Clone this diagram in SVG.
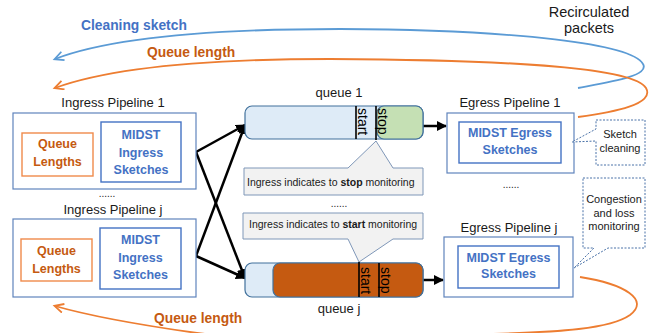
<svg xmlns="http://www.w3.org/2000/svg" width="650" height="333" viewBox="0 0 650 333">
<defs>
<style>
text{font-family:"Liberation Sans",Arial,sans-serif;}
.t{font-size:13px;fill:#1a1a1a;text-anchor:middle;}
.bl{font-size:12.5px;font-weight:bold;fill:#4472C4;text-anchor:middle;}
.or{font-size:12.5px;font-weight:bold;fill:#C55A11;text-anchor:middle;}
.big{font-size:13.8px;font-weight:bold;}
.outer{fill:#fff;stroke:#5F84BC;stroke-width:1.2;}
.inner{fill:#fff;stroke:#4472C4;stroke-width:1.4;}
.ql{fill:#fff;stroke:#F08A4B;stroke-width:1.4;}
.q{fill:#DEEBF7;stroke:#41719C;stroke-width:1.2;}
.call{fill:#F2F2F2;stroke:#7F97B8;stroke-width:1;}
.dot{fill:#fff;stroke:#4A72A8;stroke-width:1;stroke-dasharray:2,1.5;}
.sm{font-size:10.5px;fill:#1a1a1a;}
.note{font-size:11px;fill:#1a1a1a;text-anchor:middle;}
.vt{font-size:14px;fill:#000;}
.blk{stroke:#000;stroke-width:2.5;fill:none;marker-end:url(#ah);}
.sep{stroke:#000;stroke-width:1.6;}
</style>
<marker id="ah" markerUnits="userSpaceOnUse" markerWidth="11" markerHeight="11" refX="9" refY="5" orient="auto">
<path d="M0,0 L10,5 L0,10 Z" fill="#000"/>
</marker>
<marker id="ab" markerUnits="userSpaceOnUse" markerWidth="12" markerHeight="12" refX="9" refY="5" orient="auto">
<path d="M0.5,0.5 L9.5,5 L0.5,9.5" fill="none" stroke="#5B9BD5" stroke-width="1.8"/>
</marker>
<marker id="ao" markerUnits="userSpaceOnUse" markerWidth="12" markerHeight="12" refX="9" refY="5" orient="auto">
<path d="M0.5,0.5 L9.5,5 L0.5,9.5" fill="none" stroke="#ED7D31" stroke-width="1.8"/>
</marker>
</defs>
<rect width="650" height="333" fill="#fff"/>

<g id="connectors">
<path d="M578,88 C610,82 650,76 643,64 C632,44 520,30 340,29 C210,29 110,38 55,59" fill="none" stroke="#5B9BD5" stroke-width="1.8" marker-end="url(#ab)"/>
<path d="M578,117 C615,112 655,104 646,88 C634,68 520,60 330,59 C210,59 110,68 55,88" fill="none" stroke="#ED7D31" stroke-width="1.8" marker-end="url(#ao)"/>
<path d="M580,277 C625,284 650,300 630,315 C610,329 560,332 490,334 C400,337 270,342 197,333 C140,325 90,316 55,306" fill="none" stroke="#ED7D31" stroke-width="1.8" marker-end="url(#ao)"/>
<line class="blk" x1="196" y1="152" x2="245" y2="125"/>
<line class="blk" x1="196" y1="152" x2="245" y2="278"/>
<line class="blk" x1="196" y1="256" x2="245" y2="125"/>
<line class="blk" x1="196" y1="256" x2="245" y2="278"/>
<line class="blk" x1="423" y1="126" x2="446" y2="126"/>
<line class="blk" x1="423" y1="280" x2="443" y2="280"/>
</g>

<g id="labels">
<text class="big" x="81" y="30" fill="#4472C4">Cleaning sketch</text>
<text class="big" x="147" y="57" fill="#C55A11">Queue length</text>
<text class="big" x="154" y="323" fill="#C55A11">Queue length</text>
<text x="589" y="17" style="font-size:14.5px;fill:#1a1a1a;text-anchor:middle">Recirculated</text>
<text x="589" y="33" style="font-size:14.5px;fill:#1a1a1a;text-anchor:middle">packets</text>
</g>

<g id="ingress1">
<text class="t" x="113" y="107">Ingress Pipeline 1</text>
<rect class="outer" x="13" y="113" width="183" height="76"/>
<rect class="ql" x="22" y="133" width="71" height="43"/>
<text class="or" x="57.5" y="148">Queue</text>
<text class="or" x="57.5" y="166">Lengths</text>
<rect class="inner" x="101" y="122" width="80" height="60"/>
<text class="bl" x="141" y="139">MIDST</text>
<text class="bl" x="141" y="157">Ingress</text>
<text class="bl" x="141" y="174">Sketches</text>
<text class="t" x="107" y="197" style="font-size:10px">......</text>
</g>

<g id="ingressj">
<text class="t" x="113" y="214">Ingress Pipeline j</text>
<rect class="outer" x="13" y="219" width="183" height="78"/>
<rect class="ql" x="21" y="239" width="71" height="42"/>
<text class="or" x="56.5" y="255">Queue</text>
<text class="or" x="56.5" y="273">Lengths</text>
<rect class="inner" x="100" y="228" width="81" height="61"/>
<text class="bl" x="140.5" y="244">MIDST</text>
<text class="bl" x="140.5" y="262">Ingress</text>
<text class="bl" x="140.5" y="279">Sketches</text>
</g>

<g id="queue1">
<text class="t" x="339" y="97">queue 1</text>
<rect class="q" x="245" y="106" width="178" height="33" rx="7"/>
<rect x="377" y="106" width="46" height="33" rx="7" fill="#C5E0B4" stroke="#41719C" stroke-width="1.2"/>
<line class="sep" x1="356" y1="106" x2="356" y2="139"/>
<line class="sep" x1="376" y1="106" x2="376" y2="140"/>
<text class="vt" transform="translate(358,108) rotate(90)">start</text>
<text class="vt" transform="translate(378,108) rotate(90)">stop</text>
</g>

<g id="callout-stop">
<path class="call" d="M244,168 H348 L376,141 L393,168 H423 V195 H244 Z"/>
<text class="sm" x="247" y="186">Ingress indicates to <tspan font-weight="bold">stop</tspan> monitoring</text>
</g>

<text class="t" x="339" y="207" style="font-size:10px">......</text>

<g id="callout-start">
<path class="call" d="M243,213 H423 V239 H393 L359,262 L348,239 H243 Z"/>
<text class="sm" x="249" y="228">Ingress indicates to <tspan font-weight="bold">start</tspan> monitoring</text>
</g>

<g id="queuej">
<rect class="q" x="245" y="263" width="178" height="34" rx="7"/>
<rect x="273" y="263" width="150" height="34" rx="7" fill="#C55A11" stroke="#41719C" stroke-width="1.2"/>
<line class="sep" x1="359" y1="262" x2="359" y2="297"/>
<line class="sep" x1="379" y1="263" x2="379" y2="297"/>
<text class="vt" transform="translate(361,267) rotate(90)">start</text>
<text class="vt" transform="translate(381,267) rotate(90)">stop</text>
<text class="t" x="339" y="313">queue j</text>
</g>

<g id="egress1">
<text class="t" x="510" y="107">Egress Pipeline 1</text>
<rect class="outer" x="447" y="113" width="127" height="60"/>
<rect class="inner" x="459" y="122" width="102" height="41"/>
<text class="bl" x="510" y="137">MIDST Egress</text>
<text class="bl" x="510" y="154">Sketches</text>
<text class="t" x="511" y="188" style="font-size:10px">......</text>
</g>

<g id="egressj">
<text class="t" x="509" y="232">Egress Pipeline j</text>
<rect class="outer" x="444" y="237" width="129" height="60"/>
<rect class="inner" x="458" y="246" width="101" height="42"/>
<text class="bl" x="508.5" y="262">MIDST Egress</text>
<text class="bl" x="508.5" y="278">Sketches</text>
</g>

<g id="note-sketch-cleaning">
<path class="dot" d="M596,120 H645 V165 H596 V141 L572,142 L596,129 Z"/>
<text class="note" x="620" y="138">Sketch</text>
<text class="note" x="620" y="152">cleaning</text>
</g>

<g id="note-congestion">
<path class="dot" d="M583,178 H645 V248 H608 L574,268 L594,248 H583 Z"/>
<text class="note" x="614" y="203">Congestion</text>
<text class="note" x="614" y="217">and loss</text>
<text class="note" x="614" y="230">monitoring</text>
</g>
</svg>
